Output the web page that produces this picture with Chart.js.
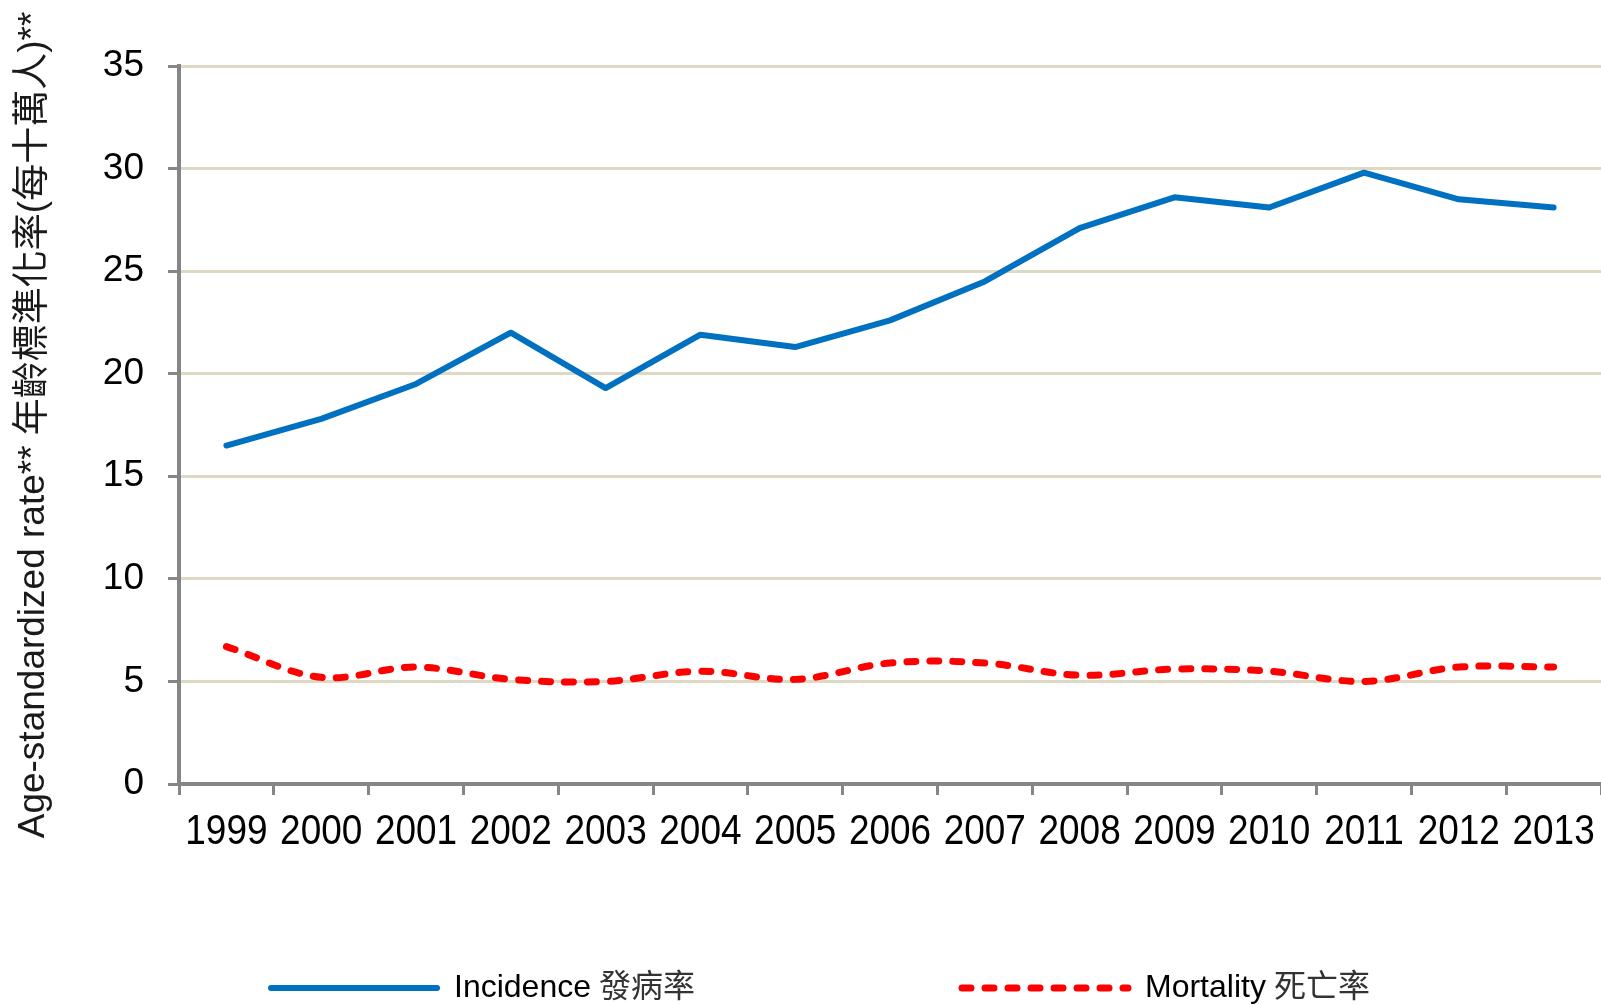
<!DOCTYPE html>
<html>
<head>
<meta charset="utf-8">
<script src="https://cdn.jsdelivr.net/npm/chart.js@4.4.0/dist/chart.umd.min.js"></script>
<style>
    html, body { margin: 0; padding: 0; background: #fff; overflow: hidden; }
    #wrap { position: relative; width: 1601px; height: 1004px; }
</style>
</head>
<body>
<div id="wrap"><canvas id="rateChart"></canvas></div>
<script>
const years = ['1999', '2000', '2001', '2002', '2003', '2004', '2005', '2006', '2007', '2008', '2009', '2010', '2011', '2012', '2013'];
const incidence = [16.5, 17.8, 19.5, 22.0, 19.3, 21.9, 21.3, 22.6, 24.5, 27.1, 28.6, 28.1, 29.8, 28.5, 28.1];
const mortality = [6.7, 5.2, 5.7, 5.1, 5.0, 5.5, 5.1, 5.9, 5.9, 5.3, 5.6, 5.5, 5.0, 5.7, 5.7];
const rateTicks = [0, 5, 10, 15, 20, 25, 30, 35];
const seriesLabels = ['Incidence 發病率', 'Mortality 死亡率'];
const yTitle = 'Age-standardized rate** 年齡標準化率(每十萬人)**';

const SANS = "'Liberation Sans', Arial, sans-serif";
const CJK = "'Noto Sans CJK TC', 'Noto Sans CJK SC', sans-serif";

// legend layout: where each sample line starts, its length and the text baseline
const legendX = [271, 962];
const legendLineLen = 166;
const legendLineY = 988;
const legendBaseline = 997;

// Excel style legend: long line sample, english text then chinese text
const lineLegend = {
    id: 'lineLegend',
    afterDraw(chart) {
        const ctx = chart.ctx;
        chart.data.datasets.forEach((ds, i) => {
            const x = legendX[i];
            ctx.save();
            ctx.strokeStyle = ds.borderColor;
            ctx.lineWidth = ds.borderWidth;
            ctx.lineCap = ds.borderCapStyle || 'butt';
            ctx.setLineDash(ds.borderDash || []);
            ctx.beginPath();
            ctx.moveTo(x, legendLineY);
            ctx.lineTo(x + legendLineLen, legendLineY);
            ctx.stroke();
            ctx.setLineDash([]);

            const parts = ds.label.split(' ');
            ctx.textBaseline = 'alphabetic';
            ctx.fillStyle = '#000';
            ctx.font = '32px ' + SANS;
            let tx = x + legendLineLen + 17;
            ctx.fillText(parts[0], tx, legendBaseline);
            tx += ctx.measureText(parts[0]).width + 8;
            ctx.fillStyle = '#333';
            ctx.font = '32px ' + CJK;
            ctx.fillText(parts.slice(1).join(' '), tx, legendBaseline);
            ctx.restore();
        });
    }
};

// the year labels in the original are a narrow face, so squeeze them horizontally
const narrowYearLabels = {
    id: 'narrowYearLabels',
    afterDraw(chart) {
        const scale = chart.scales.x;
        const ctx = chart.ctx;
        ctx.save();
        ctx.fillStyle = '#000';
        ctx.font = '42px ' + SANS;
        ctx.textAlign = 'center';
        ctx.textBaseline = 'alphabetic';
        chart.data.labels.forEach((label, i) => {
            ctx.save();
            ctx.translate(scale.getPixelForValue(i), scale.top + 60);
            ctx.scale(0.88, 1);
            ctx.fillText(label, 0, 0);
            ctx.restore();
        });
        ctx.restore();
    }
};

const ctx = document.getElementById('rateChart').getContext('2d');
new Chart(ctx, {
    type: 'line',
    data: {
        labels: years,
        datasets: [
            {
                label: seriesLabels[0],
                data: incidence,
                borderColor: '#0070C0',
                backgroundColor: '#0070C0',
                borderWidth: 6,
                pointRadius: 0,
                tension: 0,
                borderJoinStyle: 'round',
                borderCapStyle: 'round'
            },
            {
                label: seriesLabels[1],
                data: mortality,
                borderColor: '#FF0000',
                backgroundColor: '#FF0000',
                borderWidth: 7,
                borderDash: [9, 14],
                borderCapStyle: 'round',
                pointRadius: 0,
                tension: 0.35
            }
        ]
    },
    options: {
        responsive: true,
        maintainAspectRatio: false,
        animation: false,
        layout: { padding: { top: 66, right: 0, bottom: 0, left: 0 } },
        plugins: {
            legend: { display: false },
            tooltip: { enabled: false }
        },
        scales: {
            x: {
                offset: true,
                grid: {
                    offset: true,
                    drawOnChartArea: false,
                    drawTicks: true,
                    tickLength: 11,
                    tickColor: '#868686',
                    tickWidth: 3
                },
                border: { color: '#868686', width: 4 },
                ticks: { display: false },
                afterFit(scale) { scale.height = 220; }
            },
            y: {
                min: 0,
                max: 35,
                afterBuildTicks(scale) {
                    scale.ticks = rateTicks.map(v => ({ value: v }));
                },
                grid: {
                    color: '#DDD9C3',
                    lineWidth: 3,
                    tickLength: 11,
                    tickColor: '#868686',
                    tickWidth: 3
                },
                border: { color: '#868686', width: 4 },
                ticks: {
                    color: '#000',
                    font: { family: SANS, size: 37 },
                    padding: 24
                },
                title: {
                    display: true,
                    text: yTitle,
                    color: '#1a1a1a',
                    font: { family: "'Liberation Sans', " + CJK, size: 37 },
                    padding: { top: 12, bottom: 0 }
                },
                afterFit(scale) { scale.width = 179; }
            }
        }
    },
    plugins: [narrowYearLabels, lineLegend]
});
</script>
</body>
</html>
